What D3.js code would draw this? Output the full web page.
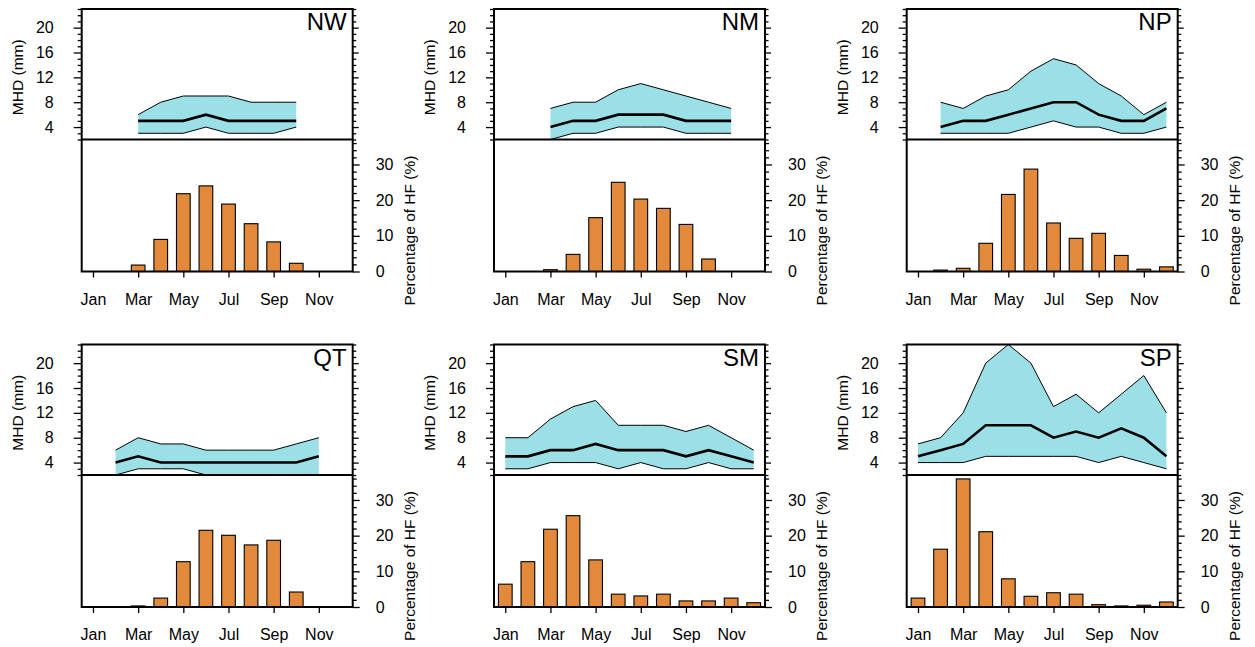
<!DOCTYPE html>
<html><head><meta charset="utf-8">
<script src="https://cdn.jsdelivr.net/npm/d3@7"></script>
<style>
body{margin:0;background:#fff}
text{font-family:"Liberation Sans",Arial,Helvetica,sans-serif;fill:#000}
</style>
</head><body>
<svg id="c" width="1255" height="647"></svg>
<script>
// ---------------- data ----------------
const regions = ["NW","NM","NP","QT","SM","SP"];
const months = [1,2,3,4,5,6,7,8,9,10,11,12];
const monthLabels = ["Jan","Feb","Mar","Apr","May","Jun","Jul","Aug","Sep","Oct","Nov","Dec"];
const monthTicks = [1,3,5,7,9,11];
const mhdTicks = [4,8,12,16,20];
const hfTicks = [0,10,20,30];

// MHD (mm) envelope upper / lower and median, per region (null = no data)
const mhdUpper = [
  [null,null,6,8,9,9,9,8,8,8,null,null],
  [null,null,7,8,8,10,11,10,9,8,7,null],
  [null,8,7,9,10,13,15,14,11,9,6,8],
  [null,6,8,7,7,6,6,6,6,7,8,null],
  [8,8,11,13,14,10,10,10,9,10,8,6],
  [7,8,12,20,23,20,13,15,12,15,18,12]
];
const mhdLower = [
  [null,null,3,3,3,4,3,3,3,4,null,null],
  [null,null,2,3,3,4,4,4,3,3,3,null],
  [null,3,3,3,3,4,5,4,4,3,3,4],
  [null,2,3,3,3,2,2,2,2,2,2,null],
  [3,3,4,4,4,3,4,3,3,4,3,3],
  [4,4,4,5,5,5,5,5,4,5,4,3]
];
const mhdMedian = [
  [null,null,5,5,5,6,5,5,5,5,null,null],
  [null,null,4,5,5,6,6,6,5,5,5,null],
  [null,4,5,5,6,7,8,8,6,5,5,7],
  [null,4,5,4,4,4,4,4,4,4,5,null],
  [5,5,6,6,7,6,6,6,5,6,5,4],
  [5,6,7,10,10,10,8,9,8,9.5,8,5]
];
// Percentage of HF (%) per month
const hfPct = [
  [0,0,1.8,9,21.8,24,18.9,13.4,8.3,2.3,0,0],
  [0,0,0.5,4.8,15.1,25,20.3,17.7,13.2,3.5,0,0],
  [0,0.4,0.9,7.9,21.6,28.7,13.6,9.3,10.7,4.5,0.65,1.3],
  [0,0,0.3,2.5,12.7,21.5,20.1,17.4,18.7,4.2,0,0],
  [6.4,12.7,21.8,25.6,13.2,3.6,3.1,3.6,1.7,1.7,2.5,1.2],
  [2.5,16.2,35.9,21.1,7.9,3.0,4.0,3.6,0.65,0.3,0.5,1.4]
];

// ---------------- layout ----------------
const svg = d3.select("#c");
const colLeft = [81.7, 494, 906.7];
const rowTop = [9, 344.5];
const W = 271, topH = 130.5, botH = 132;
const bandColor = "#9be0e6", barColor = "#e2893b";
const fs = 16, tfs = 15.5;

regions.forEach((name, i) => {
  const col = i % 3, row = Math.floor(i / 3);
  const g = svg.append("g").attr("transform", `translate(${colLeft[col]},${rowTop[row]})`);
  const x = d3.scaleLinear().domain([0.5, 12.5]).range([0, W]);
  const yT = d3.scaleLinear().domain([2, 23]).range([topH, 0]);
  const yB = d3.scaleLinear().domain([0, 37]).range([topH + botH, topH]);

  const cid = "clip" + i;
  g.append("clipPath").attr("id", cid).append("rect")
    .attr("x", 0).attr("y", 0).attr("width", W).attr("height", topH);

  const pts = months.map((m, k) => ({m, hi: mhdUpper[i][k], lo: mhdLower[i][k], md: mhdMedian[i][k]}))
    .filter(d => d.hi != null);

  const cg = g.append("g").attr("clip-path", `url(#${cid})`);
  cg.append("path")
    .attr("d", d3.area().x(d => x(d.m)).y0(d => yT(d.lo)).y1(d => yT(d.hi))(pts))
    .attr("fill", bandColor);
  cg.append("path").attr("d", d3.line().x(d => x(d.m)).y(d => yT(d.hi))(pts))
    .attr("fill", "none").attr("stroke", "#000").attr("stroke-width", 1);
  cg.append("path").attr("d", d3.line().x(d => x(d.m)).y(d => yT(d.lo))(pts))
    .attr("fill", "none").attr("stroke", "#000").attr("stroke-width", 1);
  cg.append("path").attr("d", d3.line().x(d => x(d.m)).y(d => yT(d.md))(pts))
    .attr("fill", "none").attr("stroke", "#000").attr("stroke-width", 2.6);

  // bars
  const bw = 13.7;
  g.selectAll("rect.bar").data(months.map((m, k) => ({m, v: hfPct[i][k]})).filter(d => d.v > 0))
    .enter().append("rect").attr("class", "bar")
    .attr("x", d => x(d.m) - bw / 2).attr("y", d => yB(d.v))
    .attr("width", bw).attr("height", d => yB(0) - yB(d.v))
    .attr("fill", barColor).attr("stroke", "#000").attr("stroke-width", 1.1);

  // axes
  const minorT = d3.range(2, 24).filter(v => !mhdTicks.includes(v));
  const ax = (a) => { a.select(".domain").remove(); a.selectAll("line").attr("stroke-width", 1.3); };
  g.append("g").call(d3.axisLeft(yT).tickValues(mhdTicks).tickSize(8).tickPadding(20))
    .call(ax).selectAll("text").attr("font-size", fs);
  g.append("g").call(d3.axisLeft(yT).tickValues(minorT).tickSize(4).tickFormat(""))
    .call(ax);
  g.append("g").attr("transform", `translate(${W},0)`)
    .call(d3.axisRight(yT).tickValues(mhdTicks).tickSize(6).tickFormat("")).call(ax);
  g.append("g").attr("transform", `translate(${W},0)`)
    .call(d3.axisRight(yT).tickValues(minorT).tickSize(3.5).tickFormat("")).call(ax);

  const minorB = d3.range(0, 37, 2).filter(v => !hfTicks.includes(v));
  g.append("g").attr("transform", `translate(${W},0)`)
    .call(d3.axisRight(yB).tickValues(hfTicks).tickSize(7).tickPadding(16))
    .call(ax).selectAll("text").attr("font-size", fs);
  g.append("g").attr("transform", `translate(${W},0)`)
    .call(d3.axisRight(yB).tickValues(minorB).tickSize(4).tickFormat("")).call(ax);

  g.append("g").attr("transform", `translate(0,${topH + botH})`)
    .call(d3.axisBottom(x).tickValues(monthTicks).tickFormat(m => monthLabels[m - 1]).tickSize(6).tickPadding(16))
    .call(ax).selectAll("text").attr("font-size", fs);

  // frames
  g.append("rect").attr("x", 0).attr("y", 0).attr("width", W).attr("height", topH + botH)
    .attr("fill", "none").attr("stroke", "#000").attr("stroke-width", 2);
  g.append("line").attr("x1", 0).attr("x2", W).attr("y1", topH).attr("y2", topH)
    .attr("stroke", "#000").attr("stroke-width", 2);

  // titles
  g.append("text").attr("x", W - 6).attr("y", 21).attr("text-anchor", "end")
    .attr("font-size", 24).text(name);
  g.append("text").attr("transform", `translate(-64,${topH / 2 + 3}) rotate(-90)`)
    .attr("text-anchor", "middle").attr("dy", "0.35em").attr("font-size", tfs).text("MHD (mm)");
  g.append("text").attr("transform", `translate(${W + 57},${topH + botH / 2 + 25}) rotate(-90)`)
    .attr("text-anchor", "middle").attr("dy", "0.35em").attr("font-size", tfs).text("Percentage of HF (%)");
});
</script>
</body></html>
